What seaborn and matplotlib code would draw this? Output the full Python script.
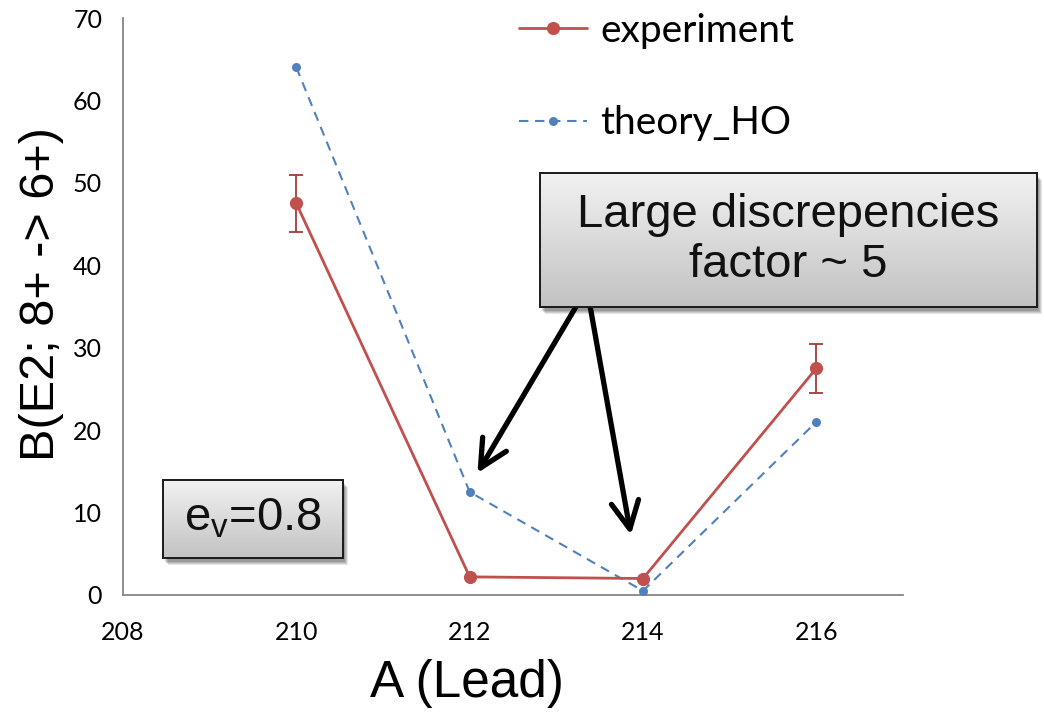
import numpy as np
import pandas as pd
import matplotlib
matplotlib.use("Agg")
import matplotlib.pyplot as plt
from matplotlib.patches import Rectangle
import seaborn as sns

# ---- data -------------------------------------------------------------
mass_number = [210, 212, 214, 216]
experiment = [47.5, 2.2, 2.0, 27.5]
experiment_err = [3.5, 0.0, 0.0, 3.0]
theory_ho = [64.0, 12.5, 0.5, 21.0]
series_names = ["experiment", "theory_HO"]
x_ticks = [208, 210, 212, 214, 216]
y_ticks = [0, 10, 20, 30, 40, 50, 60, 70]

RED = "#C0504D"
RED_DARK = "#A23B38"
BLUE = "#4F81BD"
AXIS_GREY = "#868686"

sns.set_theme(style="white")
plt.rcParams["font.family"] = ["Liberation Sans", "DejaVu Sans"]
plt.rcParams["text.color"] = "black"
plt.rcParams["axes.labelcolor"] = "black"
plt.rcParams["xtick.labelcolor"] = "black"
plt.rcParams["ytick.labelcolor"] = "black"

W, H, DPI = 1044, 712, 100
fig = plt.figure(figsize=(W / DPI, H / DPI), dpi=DPI)
ax = fig.add_axes([123 / W, 1 - 595 / H, 780 / W, 577 / H])

df = pd.DataFrame({"A": mass_number, "exp": experiment, "th": theory_ho})

sns.lineplot(data=df, x="A", y="exp", ax=ax, color=RED, lw=2.0,
             marker="o", markersize=9.5, markeredgewidth=0,
             label=series_names[0], zorder=4)
sns.lineplot(data=df, x="A", y="th", ax=ax, color=BLUE, lw=1.5,
             linestyle=(0, (4.5, 3.2)), marker="o", markersize=6.5,
             markeredgewidth=0, label=series_names[1], zorder=3)

# error bars only where an uncertainty is given
err = np.array(experiment_err)
mask = err > 0
ax.errorbar(np.array(mass_number)[mask], np.array(experiment)[mask],
            yerr=err[mask], fmt="none", ecolor=RED_DARK, elinewidth=1.3,
            capsize=5, capthick=1.3, zorder=3)

ax.set_xlim(208, 217)
ax.set_ylim(0, 70)
ax.set_xticks(x_ticks)
ax.set_yticks(y_ticks)
ax.tick_params(axis="x", direction="out", length=7, width=1.2,
               color=AXIS_GREY, pad=12, labelsize=18, labelcolor="black")
ax.tick_params(axis="y", direction="out", length=7, width=1.2,
               color=AXIS_GREY, pad=8, labelsize=18, labelcolor="black")
for lab in ax.get_xticklabels() + ax.get_yticklabels():
    lab.set_fontfamily(["Lato", "DejaVu Sans"])
for side in ["top", "right"]:
    ax.spines[side].set_visible(False)
for side in ["left", "bottom"]:
    ax.spines[side].set_color(AXIS_GREY)
    ax.spines[side].set_linewidth(1.3)

ax.set_xlabel("A (Lead)", fontsize=37, color="black")
ax.set_ylabel("B(E2; 8+ -> 6+)", fontsize=35, color="black")
ax.xaxis.set_label_coords((467 - 123) / 780, -(684 - 595) / 577)
ax.xaxis.label.set_va("center")
ax.yaxis.set_label_coords((42 - 123) / 780, (595 - 294) / 577)
ax.yaxis.label.set_va("center")

leg = ax.legend(loc="upper left", bbox_to_anchor=(519 / W, 1 - 13 / H),
                bbox_transform=fig.transFigure, frameon=False,
                handlelength=1.75, handletextpad=0.33, labelspacing=1.45,
                borderaxespad=0, borderpad=0,
                prop={"family": ["Lato", "DejaVu Sans"], "size": 28})
for t in leg.get_texts():
    t.set_color("black")

# ---- overlay in pixel coordinates for the call-out boxes ---------------
ov = fig.add_axes([0, 0, 1, 1], zorder=5)
ov.set_xlim(0, W)
ov.set_ylim(H, 0)
ov.axis("off")
ov.patch.set_alpha(0)


def to_overlay(x, y):
    disp = ax.transData.transform((x, y))
    return ov.transData.inverted().transform(disp)


def callout(x0, y0, x1, y1, text, fontsize, linespacing=1.15):
    # soft drop shadow
    for i, a in enumerate([0.10, 0.10, 0.12, 0.14]):
        off = 6 - i
        ov.add_patch(Rectangle((x0 + off - 1, y0 + off + 1), x1 - x0, y1 - y0,
                               facecolor="black", edgecolor="none",
                               alpha=a, zorder=1))
    grad = np.linspace(0, 1, 256).reshape(-1, 1)
    cmap = matplotlib.colors.LinearSegmentedColormap.from_list(
        "box", ["#F2F2F2", "#C2C2C2"])
    im = ov.imshow(grad, cmap=cmap, extent=(x0, x1, y1, y0),
                   aspect="auto", zorder=2, interpolation="bilinear")
    frame = Rectangle((x0, y0), x1 - x0, y1 - y0, facecolor="none",
                      edgecolor="#1A1A1A", lw=1.4, zorder=3)
    ov.add_patch(frame)
    im.set_clip_path(frame)
    ov.text((x0 + x1) / 2, (y0 + y1) / 2, text, ha="center", va="center",
            fontsize=fontsize, linespacing=linespacing, zorder=4,
            color="#111111")


# arrows from the discrepancy box to the theory/experiment points
tip1 = to_overlay(212.09, 14.8)
tip2 = to_overlay(213.86, 7.3)
for start, tip in [((580, 300), tip1), ((589, 300), tip2)]:
    ov.annotate("", xy=tip, xytext=start,
                arrowprops=dict(arrowstyle="->,head_length=0.9,head_width=0.45",
                                lw=3.8, color="black", mutation_scale=22,
                                shrinkA=0, shrinkB=0),
                zorder=1)

callout(540, 173, 1037, 307, "Large discrepencies\nfactor ~ 5", 34)
callout(163, 480, 343, 558, r"e$_\mathregular{v}$=0.8", 34)

ov.set_xlim(0, W)
ov.set_ylim(H, 0)

fig.savefig("out.png", dpi=DPI)
